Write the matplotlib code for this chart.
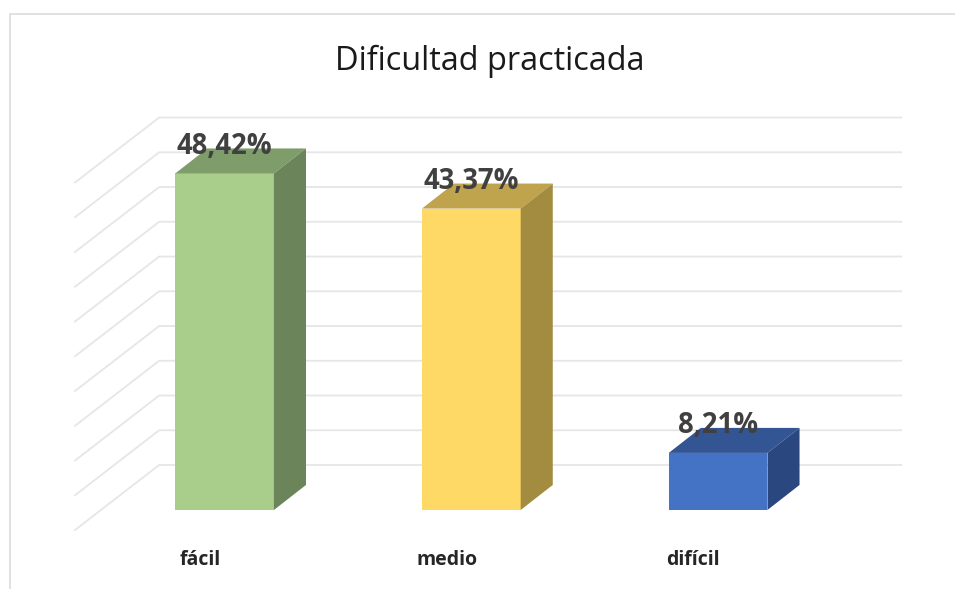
import matplotlib
matplotlib.use('Agg')
import matplotlib.pyplot as plt
from matplotlib.patches import Polygon

# datos
categorias = ['fácil', 'medio', 'difícil']
valores = [48.42, 43.37, 8.21]
etiquetas = ['48,42%', '43,37%', '8,21%']
niveles = [0, 5, 10, 15, 20, 25, 30, 35, 40, 45, 50]

# colores de cada barra: frente, tapa, lado
frente = ['#A9CE8C', '#FFD966', '#4472C4']
tapa = ['#7F9D6B', '#BFA34D', '#335593']
lado = ['#6B8459', '#A38B3F', '#2A4780']

ancho = 0.4
prof_x, prof_y = 0.13, 3.6      # fondo de la barra
pared_x, pared_y = -0.265, 6.47  # pared del fondo
suelo_x, suelo_y = -0.606, -2.88  # borde delantero de la rejilla
fin_x = 2.742

plt.rcParams['font.family'] = ['Open Sans', 'DejaVu Sans']
fig = plt.figure(figsize=(9.55, 5.89), dpi=100)
ax = fig.add_axes([0, 0, 1, 1])
ax.set_xlim(-0.91, 2.96)
ax.set_ylim(-11.37, 73.38)
ax.axis('off')

# marco del grafico
ax.plot([0.0105, 0.0105, 1], [0, 0.976, 0.976], transform=ax.transAxes,
        color='#DEDEDE', lw=1.3, zorder=1, clip_on=False)

# rejilla en perspectiva
for n in niveles:
    ax.plot([suelo_x, pared_x, fin_x],
            [n + suelo_y, n + pared_y, n + pared_y],
            color='#E6E6E6', lw=1.3, zorder=1)

# barras
for i, v in enumerate(valores):
    x0 = i - ancho / 2
    x1 = i + ancho / 2
    ax.bar(i, v, width=ancho, color=frente[i], zorder=3)
    ax.add_patch(Polygon([(x0, v), (x1, v), (x1 + prof_x, v + prof_y), (x0 + prof_x, v + prof_y)],
                         closed=True, facecolor=tapa[i], edgecolor='none', zorder=3))
    ax.add_patch(Polygon([(x1, 0), (x1 + prof_x, prof_y), (x1 + prof_x, v + prof_y), (x1, v)],
                         closed=True, facecolor=lado[i], edgecolor='none', zorder=3))
    ax.text(i, v + 3.95, etiquetas[i], ha='center', va='center', fontsize=19.8,
            fontweight='bold', color='#404040', zorder=4)
    ax.text(i - 0.1, -7.2, categorias[i], ha='center', va='center', fontsize=14,
            fontweight='bold', color='#262626', zorder=4)

fig.text(0.513, 0.896, 'Dificultad practicada', ha='center', va='center',
         fontsize=23.4, color='#1A1A1A')

fig.savefig('out.png', dpi=100)
